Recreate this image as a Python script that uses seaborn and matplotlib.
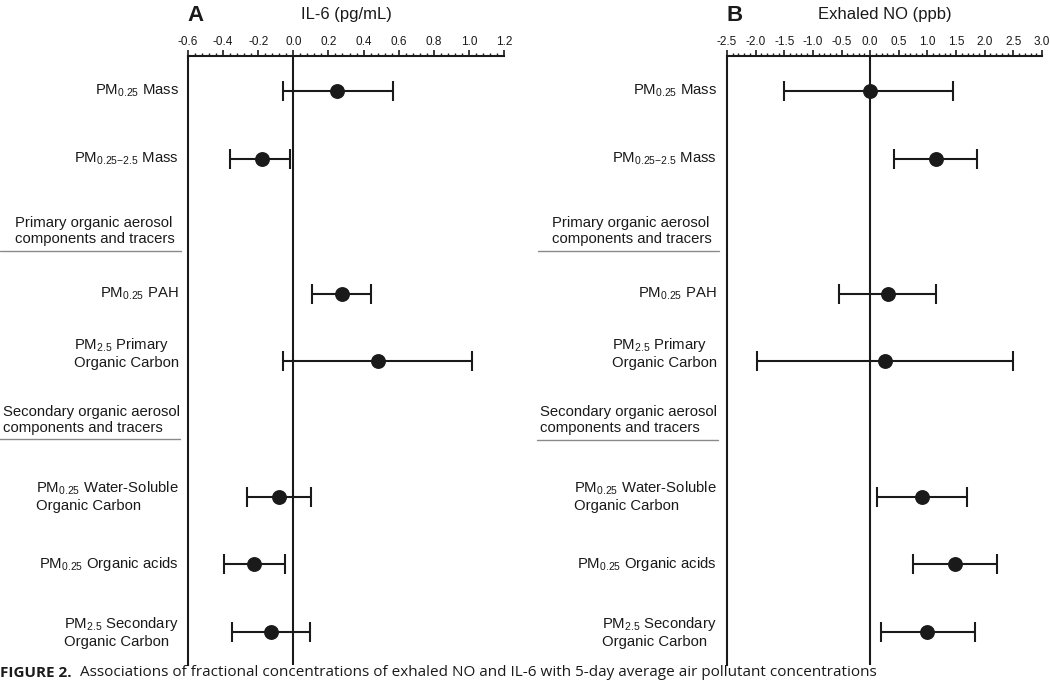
import matplotlib
matplotlib.use("Agg")
import matplotlib.pyplot as plt
from matplotlib.ticker import MultipleLocator, FormatStrFormatter
import numpy as np
import seaborn as sns

sns.set_theme(style="white")
plt.rcParams["font.family"] = ["Liberation Sans", "DejaVu Sans"]
plt.rcParams["mathtext.fontset"] = "custom"
plt.rcParams["mathtext.rm"] = "Liberation Sans"
plt.rcParams["mathtext.it"] = "Liberation Sans:italic"
plt.rcParams["mathtext.bf"] = "Liberation Sans:bold"

# rows of the forest plot (top to bottom); headers sit in rows 2 and 5
item_labels = [
    "PM$_{0.25}$ Mass",
    "PM$_{0.25{-}2.5}$ Mass",
    "PM$_{0.25}$ PAH",
    "PM$_{2.5}$ Primary\nOrganic Carbon",
    "PM$_{0.25}$ Water-Soluble\nOrganic Carbon",
    "PM$_{0.25}$ Organic acids",
    "PM$_{2.5}$ Secondary\nOrganic Carbon",
]
item_rows = [0, 1, 3, 4, 6, 7, 8]
header_labels = [
    "Primary organic aerosol\ncomponents and tracers",
    "Secondary organic aerosol\ncomponents and tracers",
]
header_rows = [2, 5]

# Panel A: IL-6 (pg/mL)
il6_est = [0.25, -0.18, 0.275, 0.48, -0.08, -0.225, -0.125]
il6_low = [-0.06, -0.36, 0.105, -0.06, -0.265, -0.395, -0.35]
il6_high = [0.57, -0.02, 0.44, 1.02, 0.10, -0.05, 0.095]

# Panel B: Exhaled NO (ppb)
no_est = [0.0, 1.15, 0.31, 0.26, 0.90, 1.48, 1.00]
no_low = [-1.50, 0.42, -0.55, -1.97, 0.12, 0.75, 0.19]
no_high = [1.45, 1.87, 1.15, 2.50, 1.69, 2.22, 1.83]

INK = "#1a1a1a"


def draw_panel(ax, est, low, high, ticks, minor, letter, title,
               label_x, head_x, head_dy, line_x, line_dy):
    ax.set_xlim(ticks[0], ticks[-1])
    ax.set_ylim(8.49, -0.518)
    ax.axvline(0, color=INK, lw=1.5, zorder=1)

    err = [np.subtract(est, low), np.subtract(high, est)]
    ax.errorbar(est, item_rows, xerr=err, fmt="none", ecolor=INK,
                elinewidth=1.5, capsize=7, capthick=1.5, zorder=2)
    sns.scatterplot(x=est, y=item_rows, ax=ax, s=115, color=INK,
                    linewidth=0, zorder=3, legend=False)

    ax.xaxis.tick_top()
    ax.set_xticks(ticks)
    ax.xaxis.set_major_formatter(FormatStrFormatter("%.1f"))
    ax.xaxis.set_minor_locator(MultipleLocator(minor))
    ax.tick_params(axis="x", which="major", top=True, direction="out",
                   length=4, width=1.2, pad=1.5, labelsize=8.5,
                   color=INK, labelcolor=INK)
    ax.tick_params(axis="x", which="minor", top=True, direction="out",
                   length=2, width=1.0, color=INK)
    ax.set_yticks([])
    ax.set_xlabel("")
    ax.set_ylabel("")
    for s in ["right", "bottom"]:
        ax.spines[s].set_visible(False)
    for s in ["left", "top"]:
        ax.spines[s].set_linewidth(1.5)
        ax.spines[s].set_color(INK)

    trans = ax.get_yaxis_transform()
    for row, lab in zip(item_rows, item_labels):
        dy = -0.125 if "Primary" in lab else 0.0
        ax.text(label_x, row + dy, lab, transform=trans, ha="right",
                va="center", multialignment="left", fontsize=10.7,
                color=INK)
    for i, (row, lab) in enumerate(zip(header_rows, header_labels)):
        ax.text(head_x[i], row + head_dy[i], lab, transform=trans,
                ha="left", va="center", multialignment="left",
                fontsize=10.7, color=INK)
        ax.plot(line_x[i], [row + line_dy[i]] * 2, transform=trans,
                clip_on=False, color="#8a8a8a", lw=1.0)

    ax.text(-0.003, 1.066, letter, transform=ax.transAxes, ha="left",
            va="center", fontsize=16, fontweight="bold", color=INK)
    ax.text(0.5, 1.068, title, transform=ax.transAxes, ha="center",
            va="center", fontsize=12, color=INK)


fig = plt.figure(figsize=(10.5, 6.82), dpi=100)
ax_a = fig.add_axes([188 / 1050, 1 - 665 / 682, 316 / 1050, 609 / 682])
ax_b = fig.add_axes([727 / 1050, 1 - 665 / 682, 315 / 1050, 609 / 682])

draw_panel(ax_a, il6_est, il6_low, il6_high,
           np.round(np.arange(-0.6, 1.21, 0.2), 1), 0.04, "A", "IL-6 (pg/mL)",
           -0.0285, [-0.547, -0.585], [0.07, -0.13],
           [[-0.595, -0.022], [-0.595, -0.025]], [0.367, 0.15])
draw_panel(ax_b, no_est, no_low, no_high,
           np.round(np.arange(-2.5, 3.01, 0.5), 1), 0.1, "B", "Exhaled NO (ppb)",
           -0.032, [-0.556, -0.594], [0.07, -0.13],
           [[-0.60, -0.025], [-0.603, -0.029]], [0.367, 0.16])

# caption line at the bottom (kept fully inside the canvas)
cap_y = 2 / 682
head = fig.text(0.0, cap_y, "FIGURE 2.", ha="left", va="bottom",
                fontsize=11, fontweight="bold",
                family=["Open Sans", "DejaVu Sans"], color=INK)
fig.canvas.draw()
bb = head.get_window_extent(renderer=fig.canvas.get_renderer())
fig.text(bb.x1 / 1050 + 8 / 1050, cap_y,
         "Associations of fractional concentrations of exhaled NO and IL-6 "
         "with 5-day average air pollutant concentrations",
         ha="left", va="bottom", fontsize=11,
         family=["Open Sans", "DejaVu Sans"], color=INK)

fig.savefig("out.png", dpi=100)
